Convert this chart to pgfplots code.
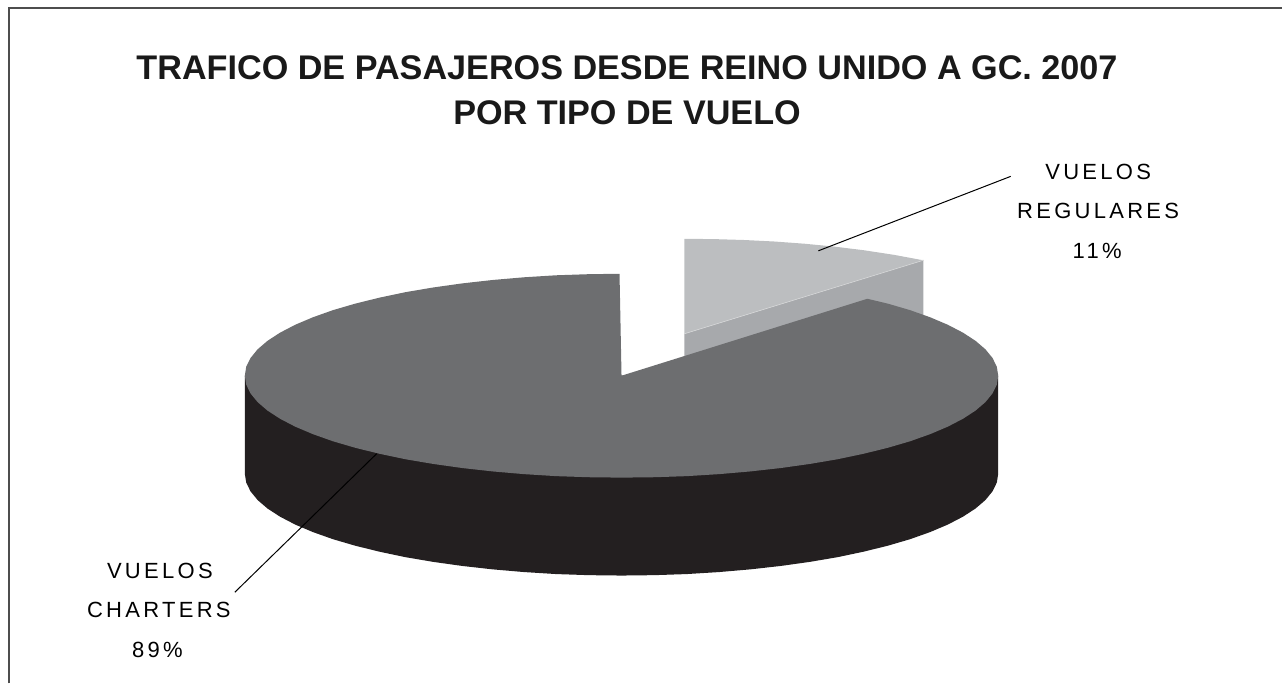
\documentclass[border=0pt]{standalone}
\usepackage{pgfplots}
\pgfplotsset{compat=1.18}
\usepackage{fontspec}
\setmainfont{Liberation Sans}
\newfontfamily\lab[LetterSpace=15]{Liberation Sans}
\definecolor{topdark}{HTML}{6D6E70}
\definecolor{sidedark}{HTML}{231F20}
\definecolor{toplight}{HTML}{BCBEC0}
\definecolor{sidelight}{HTML}{A7A9AC}
\definecolor{framec}{HTML}{4D4D4D}
\tikzset{
  lab/.style={font=\fontsize{22}{22}\selectfont\lab, anchor=base, text=black, inner sep=0pt},
  ttl/.style={font=\fontsize{34.2}{34.2}\selectfont\bfseries, anchor=base, text=black!90, inner sep=0pt},
}
\begin{document}
\begin{tikzpicture}
\begin{axis}[
  hide axis, scale only axis, width=1283pt, height=684pt,
  xmin=0, xmax=1283, ymin=0, ymax=684, y dir=reverse, clip=false,
]
% page extent
\addplot[draw=none] coordinates {(0,0) (1283,0) (1283,684) (0,684)};
% frame
\addplot[draw=framec, line width=2pt] coordinates {(9,684) (9,8.5) (1283,8.5)};
% small slice: side
\addplot[fill=sidelight, draw=none] coordinates {(685,334) (924,260) (924,345) (685,400)} -- cycle;
% small slice: top
\addplot[fill=toplight, draw=none] coordinates {(685,334) (685,239) (715,239.3) (745,240.2) (775,241.7) (805,243.9) (835,246.8) (865,250.5) (895,255.1) (924,260.5)} -- cycle;
\addplot[draw=toplight!60, line width=0.6pt] coordinates {(685,334) (924,260.5)};
% large slice: side
\addplot[fill=sidedark, draw=none] coordinates {
(245,376) (245,474) (246.4,482.9) (250.7,491.7) (257.8,500.4) (267.7,508.9) (280.3,517.1) (295.5,525) (313.2,532.5) (333.2,539.6) (355.4,546.1) (379.7,552.1) (405.8,557.6) (433.5,562.3) (462.7,566.4) (493.1,569.8) (524.4,572.5) (556.5,574.5) (589.1,575.6) (622,576)
(654.9,575.6) (687.5,574.5) (719.6,572.5) (750.9,569.8) (781.3,566.4) (810.5,562.3) (838.2,557.6) (864.3,552.1) (888.6,546.1) (910.8,539.6) (930.8,532.5) (948.5,525) (963.7,517.1) (976.3,508.9) (986.2,500.4) (993.3,491.7) (997.6,482.9) (999,474) (999,376)} -- cycle;
% large slice: top
\addplot[fill=topdark, draw=none] coordinates {
(622,376) (868,299) (888.6,303.9) (910.8,310.4) (930.8,317.5) (948.5,325) (963.7,332.9) (976.3,341.1) (986.2,349.6) (993.3,358.3) (997.6,367.1) (999,376)
(997.6,384.9) (993.3,393.7) (986.2,402.4) (976.3,410.9) (963.7,419.1) (948.5,427) (930.8,434.5) (910.8,441.6) (888.6,448.1) (864.3,454.1) (838.2,459.6) (810.5,464.3) (781.3,468.4) (750.9,471.8) (719.6,474.5) (687.5,476.5) (654.9,477.6) (622,478)
(589.1,477.6) (556.5,476.5) (524.4,474.5) (493.1,471.8) (462.7,468.4) (433.5,464.3) (405.8,459.6) (379.7,454.1) (355.4,448.1) (333.2,441.6) (313.2,434.5) (295.5,427) (280.3,419.1) (267.7,410.9) (257.8,402.4) (250.7,393.7) (246.4,384.9) (245,376)
(246.4,367.1) (250.7,358.3) (257.8,349.6) (267.7,341.1) (280.3,332.9) (295.5,325) (313.2,317.5) (333.2,310.4) (355.4,303.9) (379.7,297.9) (405.8,292.4) (433.5,287.7) (462.7,283.6) (493.1,280.2) (524.4,277.5) (556.5,275.5) (589.1,274.4) (620,274)} -- cycle;
% leader lines
\addplot[draw=black, line width=1pt] coordinates {(1011.5,176.5) (819,251)};
\addplot[draw=black, line width=1pt] coordinates {(235,592.7) (377,454)};
% text
\node[ttl] at (axis cs:627.5,80) {TRAFICO DE PASAJEROS DESDE REINO UNIDO A GC. 2007};
\node[ttl] at (axis cs:627.5,125) {POR TIPO DE VUELO};
\node[lab] at (axis cs:1099,180) {VUELOS};
\node[lab] at (axis cs:1099,219) {REGULARES};
\node[lab] at (axis cs:1098,259) {11\%};
\node[lab] at (axis cs:160,579) {VUELOS};
\node[lab] at (axis cs:159,618) {CHARTERS};
\node[lab] at (axis cs:157.5,658) {89\%};
\end{axis}
\end{tikzpicture}
\end{document}
